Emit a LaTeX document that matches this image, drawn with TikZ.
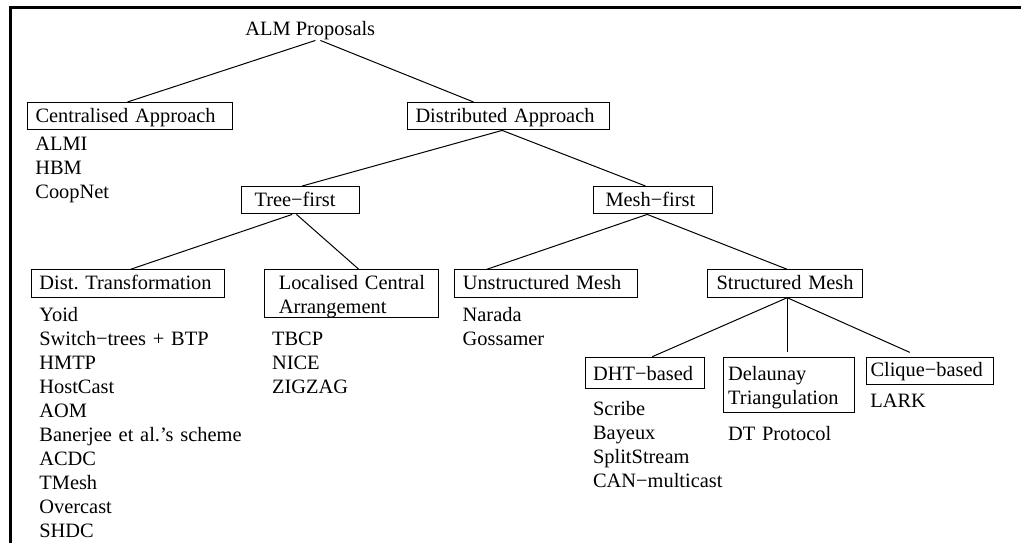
\documentclass[tikz,border=0pt]{standalone}
\usepackage{fontspec}
\setmainfont{Liberation Serif}
\usepackage{tikz}
\frenchspacing

\begin{document}
\begin{tikzpicture}[x=0.5pt,y=-0.5pt,
  every node/.style={font=\fontsize{10.2}{12}\selectfont},
  box/.style={draw,line width=0.5pt,anchor=north west,align=left,inner ysep=0pt,text height=10pt,text depth=3.7pt},
  items/.style={anchor=base west,align=left,inner sep=0pt,text width=110pt},
  link/.style={line width=0.5pt}]
\useasboundingbox (0,0) rectangle (1021,543);
\draw[line width=1.5pt] (10.3,543) -- (10.3,7.2) -- (1021,7.2);
%%%%%%%%%%%%%%%%
\node[anchor=base west,inner sep=0pt] (alm) at (245,35.7) {ALM Proposals};
%%%%%%%%%%%%%%%%
\node[box,inner xsep=4.15pt,text width=94.35pt] (cent) at (26.7,102) {Centralised Approach};
\node[items] (centlist) at (35,150.5) {ALMI\\HBM\\CoopNet};
\node[box,inner xsep=4.15pt,text width=92.85pt] (dist) at (406.7,102) {Distributed Approach};
%%%%%%%%%%%%%%%%
\node[box,inner xsep=6.65pt,text width=46pt] (tree) at (240.7,186) {Tree−first};
\node[box,inner xsep=6.15pt,text width=47.2pt] (mesh) at (592.7,186) {Mesh−first};
%%%%%%%%%%%%%%%%
\node[box,inner xsep=4.15pt,text width=88.5pt] (dt) at (30.7,269.3) {Dist. Transformation};
\node[items] (dtlist) at (39,321.7) {Yoid\\Switch−trees + BTP\\HMTP\\HostCast\\AOM\\Banerjee et al.'s scheme\\ACDC\\TMesh\\Overcast\\SHDC};
\node[box,inner xsep=7pt,text width=73pt,text depth=13.7pt] (lca) at (264.3,269.3) {\mbox{Localised Central}\\Arrangement};
\node[items] (lcalist) at (271.7,345) {TBCP\\NICE\\ZIGZAG};
\node[box,inner xsep=4pt,text width=83.2pt] (um) at (454.3,269.3) {Unstructured Mesh};
\node[items] (umlist) at (462.3,321.7) {Narada\\Gossamer};
\node[box,inner xsep=4.35pt,text width=68.8pt] (sm) at (707.3,269.3) {Structured Mesh};
%%%%%%%%%%%%%%%%
\node[box,inner xsep=3.85pt,text width=51.65pt,text height=11.65pt,text depth=4pt] (dht) at (585,356.7) {DHT−based};
\node[items] (dhtlist) at (592.7,415.7) {Scribe\\Bayeux\\SplitStream\\CAN−multicast};
\node[box,inner xsep=2.2pt,text width=61.1pt,text height=11.65pt,text depth=16pt] (del) at (723.3,356.7) {Delaunay\\Triangulation};
\node[items] (dellist) at (727.7,440) {DT Protocol};
\node[box,inner xsep=2pt,text width=59.35pt,text height=9.65pt,text depth=4.15pt] (clq) at (866,356.7) {Clique−based};
\node[items] (clqlist) at (870,407.7) {LARK};
%%%%%%%%%%%%%%%%
\draw[link] ([xshift=2.55pt]alm.south) -- ([xshift=-1.2pt]cent.north);
\draw[link] ([xshift=5.05pt]alm.south) -- ([xshift=-17.4pt]dist.north);
\draw[link] ([xshift=-3.1pt]dist.south) -- ([xshift=0.85pt]tree.north);
\draw[link] ([xshift=-3.1pt]dist.south) -- ([xshift=-3.6pt]mesh.north);
\draw[link] ([xshift=-4.15pt]tree.south) -- ([xshift=1.25pt]dt.north);
\draw[link] ([xshift=-2pt]tree.south) -- ([xshift=3.5pt]lca.north);
\draw[link] ([xshift=-2.75pt]mesh.south) -- ([xshift=-29.6pt]um.north);
\draw[link] ([xshift=-2.75pt]mesh.south) -- ([xshift=0.95pt]sm.north);
\draw[link] ([xshift=0.95pt]sm.south) -- ([xshift=3.7pt]dht.north);
\draw[link,shorten >=2.3pt] ([xshift=0.95pt]sm.south) -- ([xshift=-1.05pt]del.north);
\draw[link,shorten >=5.3pt] ([xshift=0.95pt]sm.south) -- ([xshift=-5.2pt]clq.north);
%%%%%%%%%%%%%%%%
\end{tikzpicture}
\end{document}
